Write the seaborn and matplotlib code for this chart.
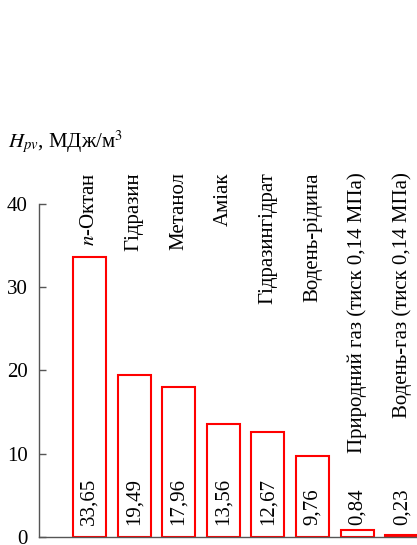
import matplotlib
matplotlib.use("Agg")
import matplotlib.pyplot as plt
import seaborn as sns
import pandas as pd

categories = [r"$n$-Октан", "Гідразин", "Метанол", "Аміак", "Гідразингідрат",
              "Водень-рідина", "Природний газ (тиск 0,14 МПа)", "Водень-газ (тиск 0,14 МПа)"]
values = [33.65, 19.49, 17.96, 13.56, 12.67, 9.76, 0.84, 0.23]
value_labels = ["33,65", "19,49", "17,96", "13,56", "12,67", "9,76", "0,84", "0,23"]
yticks = [0, 10, 20, 30, 40]

sns.set_style("ticks")
plt.rcParams['font.family'] = ['Liberation Serif', 'DejaVu Serif']
plt.rcParams['mathtext.fontset'] = 'stix'
plt.rcParams['text.color'] = 'black'
plt.rcParams['ytick.labelcolor'] = 'black'

fig = plt.figure(figsize=(4.17, 5.45), dpi=100)
ax = fig.add_axes([0.0935, 0.0147, 0.9065, 0.611])

df = pd.DataFrame({"cat": categories, "val": values})
sns.barplot(data=df, x="cat", y="val", color="white", edgecolor="#ff0000",
            linewidth=1.5, width=0.74, ax=ax, saturation=1)

ax.set_xlim(-1.13, 7.34)
ax.set_ylim(0, 40)
ax.set_yticks(yticks)
ax.set_yticklabels([str(t) for t in yticks], fontsize=15, color='black')
ax.set_xticks([])
ax.set_xlabel("")
ax.set_ylabel("")
ax.tick_params(axis='y', direction='in', length=5, width=1, color='#555555', pad=8)
for s in ['top', 'right']:
    ax.spines[s].set_visible(False)
for s in ['left', 'bottom']:
    ax.spines[s].set_color('#555555')
    ax.spines[s].set_linewidth(1)

for i, (c, lab) in enumerate(zip(categories, value_labels)):
    ax.text(i, 43.8, c, rotation=90, ha='center', va='top', fontsize=15,
            color='black', clip_on=False)
    ax.text(i, 1.4, lab, rotation=90, ha='center', va='bottom', fontsize=15,
            color='black', clip_on=False)

fig.text(0.02, 0.728, r"$H_{pv}$, МДж/м$^3$", fontsize=15, ha='left', va='baseline',
         color='black')

fig.savefig("out.png", dpi=100)
